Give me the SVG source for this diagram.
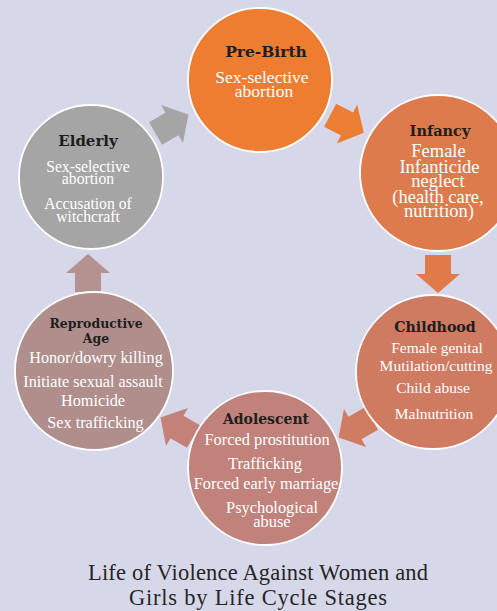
<svg xmlns="http://www.w3.org/2000/svg" width="497" height="611" viewBox="0 0 497 611">
<style>
.node circle{stroke:#ffffff;stroke-width:1.8}
.hd{font-family:"DejaVu Serif","Liberation Serif",serif;font-weight:bold;fill:#1e1e1e;text-anchor:middle}
.bd{font-family:"Liberation Serif","DejaVu Serif",serif;fill:#ffffff;text-anchor:middle}
.title{font-family:"Liberation Serif","DejaVu Serif",serif;fill:#262626;text-anchor:middle;font-size:22.5px}
</style>
<defs>
<path id="arw" d="M-19,-13 L0,-13 L0,-22 L19,0 L0,22 L0,13 L-19,13 Z"/>
</defs>
<rect x="0" y="0" width="497" height="611" fill="#d6d8ea"/>

<g id="connectors">
<use href="#arw" fill="#ec7e33" transform="translate(347,124) rotate(27.6)"/>
<use href="#arw" fill="#e07b47" transform="translate(438,274) rotate(90)"/>
<use href="#arw" fill="#d07c60" transform="translate(355,428) rotate(150)"/>
<use href="#arw" fill="#c3817a" transform="translate(177,427) rotate(210)"/>
<use href="#arw" fill="#b49290" transform="translate(88,273) rotate(-90)"/>
<use href="#arw" fill="#a5a5a5" transform="translate(172,124) rotate(-30)"/>
</g>

<g id="pre-birth" class="node">
<circle cx="260" cy="80" r="72" fill="#ed7d31"/>
<text class="hd" x="266" y="57" font-size="15.5">Pre-Birth</text>
<text class="bd" x="262" y="83" font-size="17.5">Sex-selective</text>
<text class="bd" x="264" y="97" font-size="17.5">abortion</text>
</g>

<g id="infancy" class="node">
<circle cx="438" cy="173" r="78" fill="#dd7b4c"/>
<text class="hd" x="440" y="136" font-size="14.5">Infancy</text>
<text class="bd" x="438.5" y="157" font-size="18.5">Female</text>
<text class="bd" x="439.5" y="173" font-size="18.5">Infanticide</text>
<text class="bd" x="438" y="187" font-size="18.5">neglect</text>
<text class="bd" x="438" y="203" font-size="18.5">(health care,</text>
<text class="bd" x="439" y="217" font-size="18.5">nutrition)</text>
</g>

<g id="childhood" class="node">
<circle cx="433" cy="372" r="77" fill="#cf7b62"/>
<text class="hd" x="435" y="332" font-size="14.2">Childhood</text>
<text class="bd" x="437" y="353" font-size="15.5">Female genital</text>
<text class="bd" x="436" y="371" font-size="15.5">Mutilation/cutting</text>
<text class="bd" x="433" y="393" font-size="15.5">Child abuse</text>
<text class="bd" x="434" y="419" font-size="15.5">Malnutrition</text>
</g>

<g id="adolescent" class="node">
<circle cx="265" cy="468" r="77" fill="#c0827a"/>
<text class="hd" x="266" y="424" font-size="14">Adolescent</text>
<text class="bd" x="267" y="445" font-size="16.4">Forced prostitution</text>
<text class="bd" x="265" y="469" font-size="16.4">Trafficking</text>
<text class="bd" x="266" y="489" font-size="16.4">Forced early marriage</text>
<text class="bd" x="272" y="513" font-size="16.4">Psychological</text>
<text class="bd" x="272" y="527" font-size="16.4">abuse</text>
</g>

<g id="reproductive-age" class="node">
<circle cx="94" cy="371" r="79" fill="#b08e8b"/>
<text class="hd" x="96" y="328" font-size="12.5">Reproductive</text>
<text class="hd" x="96" y="343" font-size="12.5">Age</text>
<text class="bd" x="96" y="363" font-size="16.2">Honor/dowry killing</text>
<text class="bd" x="93" y="387" font-size="16.2">Initiate sexual assault</text>
<text class="bd" x="93" y="406" font-size="16.2">Homicide</text>
<text class="bd" x="95.5" y="428" font-size="16.2">Sex trafficking</text>
</g>

<g id="elderly" class="node">
<circle cx="91" cy="177" r="72" fill="#a5a5a5"/>
<text class="hd" x="88" y="146" font-size="15">Elderly</text>
<text class="bd" x="88" y="172" font-size="15.7">Sex-selective</text>
<text class="bd" x="88" y="184" font-size="15.7">abortion</text>
<text class="bd" x="88" y="209" font-size="15.7">Accusation of</text>
<text class="bd" x="88" y="222" font-size="15.7">witchcraft</text>
</g>

<g id="title">
<text class="title" x="258" y="580" textLength="340" lengthAdjust="spacing">Life of Violence Against Women and</text>
<text class="title" x="258" y="605" textLength="258" lengthAdjust="spacing">Girls by Life Cycle Stages</text>
</g>
</svg>
